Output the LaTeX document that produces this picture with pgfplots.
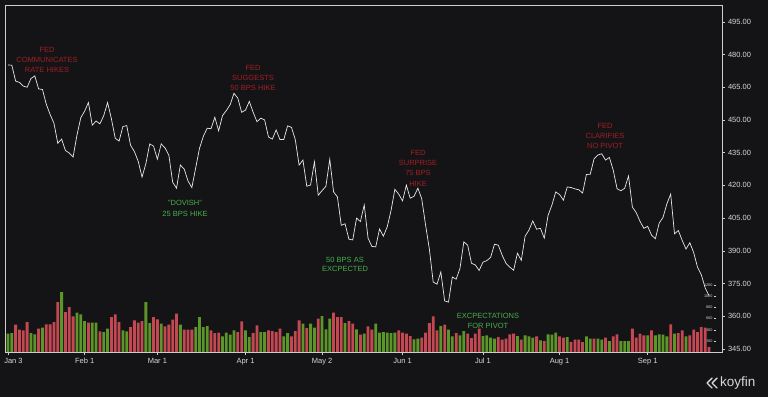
\documentclass[border=0pt]{standalone}
\usepackage{fontspec}
\setmainfont{Liberation Sans}
\usepackage{pgfplots}
\pgfplotsset{compat=1.18}
\definecolor{bg}{RGB}{20,20,23}
\definecolor{frame}{RGB}{205,205,205}
\definecolor{txt}{RGB}{215,215,215}
\definecolor{barred}{RGB}{196,72,82}
\definecolor{bargreen}{RGB}{92,150,40}
\definecolor{annred}{RGB}{160,30,35}
\definecolor{anngreen}{RGB}{70,175,75}
\definecolor{pline}{RGB}{232,232,232}
\begin{document}
\begin{tikzpicture}
\fill[bg] (0pt,0pt) rectangle (768pt,397pt);
% volume axis
\begin{axis}[
  at={(5pt,45pt)}, anchor=south west, scale only axis,
  width=709pt, height=347pt,
  xmin=-0.78, xmax=184.31, ymin=0, ymax=6250,
  axis x line=none, axis y line*=right,
  y axis line style={draw=none},
  ytick={200,400,...,1200},
  /pgf/number format/assume math mode=true,
  /pgf/number format/1000 sep={},
  yticklabel style={anchor=east, xshift=0.5pt, font=\fontsize{3.8}{4}\selectfont, text=txt},
  ytick style={draw=txt, line width=0.4pt},
  tick align=outside, major tick length=1.5pt,
  ybar, bar width=2.8pt, bar shift=0pt,
]
\addplot[draw=none, fill=barred] coordinates {
(2,492)(3,402)(4,390)(5,540)(8,420)(10,498)(11,498)(12,540)(13,900)(15,720)(16,810)(17,642)(21,528)(24,372)(27,630)(28,678)(29,540)(32,450)(33,570)(34,528)(35,558)(38,630)(39,588)(41,462)(42,492)(43,582)(44,690)(46,402)(47,402)(48,402)(53,390)(54,342)(55,348)(60,360)(61,552)(64,342)(65,480)(68,390)(69,378)(70,360)(71,420)(74,282)(75,378)(76,570)(78,432)(81,600)(85,708)(86,630)(87,630)(89,558)(90,510)(92,312)(94,462)(95,402)(102,390)(103,348)(104,330)(105,288)(108,258)(109,348)(110,522)(111,642)(112,390)(114,492)(117,342)(120,330)(121,252)(122,330)(123,420)(128,270)(129,222)(130,240)(131,318)(132,330)(134,222)(138,282)(140,198)(144,282)(145,258)(147,180)(148,222)(149,222)(150,180)(153,240)(156,258)(158,282)(159,318)(163,420)(164,258)(165,330)(166,300)(168,390)(173,498)(175,342)(176,390)(178,300)(179,402)(180,360)(181,450)(182,438)(183,90)
};
\addplot[draw=none, fill=bargreen] coordinates {
(0,330)(1,342)(6,342)(7,318)(9,438)(14,1080)(18,708)(19,678)(20,558)(22,528)(23,528)(25,360)(26,420)(30,390)(31,372)(36,900)(37,522)(40,510)(45,492)(49,450)(50,630)(51,450)(52,468)(56,282)(57,348)(58,312)(59,390)(62,390)(63,270)(66,360)(67,360)(72,282)(73,342)(77,510)(79,510)(80,438)(82,648)(83,408)(84,600)(88,522)(91,408)(93,330)(96,510)(97,348)(98,360)(99,348)(100,342)(101,348)(106,228)(107,240)(113,468)(115,402)(116,282)(118,300)(119,378)(124,288)(125,300)(126,258)(127,240)(133,288)(135,300)(136,282)(137,258)(139,210)(141,318)(142,312)(143,348)(146,270)(151,282)(152,240)(154,240)(155,222)(157,198)(160,198)(161,198)(162,198)(167,300)(169,300)(170,318)(171,312)(172,282)(174,330)(177,282)
};
\end{axis}
% price axis
\begin{axis}[
  at={(5pt,45pt)}, anchor=south west, scale only axis,
  width=717pt, height=347pt,
  xmin=-0.78, xmax=186.4, ymin=343.6, ymax=502.7,
  axis line style={draw=frame, line width=0.6pt},
  xtick pos=bottom, ytick pos=right, yticklabel pos=right,
  tick align=outside, major tick length=2.5pt,
  tick style={draw=frame, line width=0.5pt},
  xtick={0,20,39,62,82,103,124,144,167},
  xticklabels={\hspace*{11pt}Jan 3,Feb 1,Mar 1,Apr 1,May 2,Jun 1,Jul 1,Aug 1,Sep 1},
  ytick={345,360,...,495},
  /pgf/number format/assume math mode=true,
  yticklabel style={/pgf/number format/.cd, fixed, fixed zerofill, precision=2, /tikz/.cd,
    font=\fontsize{7.5}{9}\selectfont, text=txt},
  xticklabel style={font=\fontsize{7.5}{9}\selectfont, text=txt},
]
\addplot[pline, line width=0.7pt, mark=none] coordinates {
(0,475.2)(1,475.1)(2,467.8)(3,467.2)(4,465.5)(5,465.0)(6,469.0)(7,470.2)(8,464.2)(9,464.0)
(10,457.2)(11,452.5)(12,448.5)(13,439.3)(14,441.2)(15,436.0)(16,434.8)(17,433.0)(18,443.0)(19,451.0)
(20,454.0)(21,458.0)(22,447.6)(23,449.5)(24,448.2)(25,452.0)(26,458.0)(27,450.5)(28,441.6)(29,440.3)
(30,447.0)(31,447.4)(32,438.4)(33,435.5)(34,431.0)(35,423.8)(36,430.0)(37,439.0)(38,438.0)(39,432.0)
(40,439.0)(41,437.2)(42,433.8)(43,421.4)(44,418.7)(45,429.3)(46,427.5)(47,422.0)(48,419.0)(49,428.0)
(50,437.0)(51,442.5)(52,446.2)(53,446.0)(54,451.2)(55,445.0)(56,452.0)(57,454.3)(58,457.0)(59,462.2)
(60,460.0)(61,453.5)(62,454.5)(63,458.5)(64,453.5)(65,449.2)(66,450.8)(67,450.0)(68,442.2)(69,441.2)
(70,445.4)(71,441.0)(72,441.0)(73,447.3)(74,446.6)(75,441.0)(76,429.3)(77,431.6)(78,419.6)(79,420.2)
(80,430.8)(81,415.5)(82,417.6)(83,419.6)(84,432.0)(85,417.0)(86,414.7)(87,401.7)(88,402.4)(89,395.3)
(90,395.0)(91,405.0)(92,403.4)(93,411.0)(94,395.8)(95,392.0)(96,391.8)(97,400.0)(98,396.7)(99,401.0)
(100,408.5)(101,418.2)(102,416.0)(103,412.9)(104,420.1)(105,414.1)(106,415.0)(107,418.7)(108,414.0)(109,402.0)
(110,390.8)(111,375.7)(112,374.7)(113,380.3)(114,367.0)(115,366.5)(116,378.0)(117,377.0)(118,382.0)(119,394.1)
(120,392.6)(121,384.3)(122,383.5)(123,381.0)(124,384.8)(125,385.5)(126,387.0)(127,393.0)(128,392.6)(129,388.0)
(130,384.3)(131,382.5)(132,381.1)(133,388.9)(134,385.6)(135,396.7)(136,399.5)(137,403.7)(138,399.9)(139,400.3)
(140,395.8)(141,406.3)(142,411.0)(143,417.0)(144,415.8)(145,413.2)(146,419.3)(147,419.0)(148,418.4)(149,418.0)
(150,416.5)(151,425.0)(152,425.1)(153,432.2)(154,433.9)(155,434.5)(156,431.6)(157,432.8)(158,427.0)(159,418.5)
(160,417.5)(161,418.7)(162,424.3)(163,410.1)(164,407.5)(165,403.5)(166,400.3)(167,401.2)(168,397.2)(169,395.5)
(170,402.7)(171,405.3)(172,411.5)(173,416.0)(174,397.8)(175,399.3)(176,394.8)(177,390.8)(178,393.7)(179,389.2)
(180,382.5)(181,379.0)(182,373.0)(183,369.5)
};
\end{axis}
% annotations
\begin{scope}[every node/.style={align=center, font=\fontsize{7.5}{10.3}\selectfont, inner sep=0pt}]
\node[text=annred] at (47pt,337pt) {FED\\COMMUNICATES\\RATE HIKES};
\node[text=annred] at (253pt,319pt) {FED\\SUGGESTS\\50 BPS HIKE};
\node[text=annred] at (418pt,229pt) {FED\\SURPRISE\\75 BPS\\HIKE};
\node[text=annred] at (605pt,261pt) {FED\\CLARIFIES\\NO PIVOT};
\node[text=anngreen] at (185pt,188.5pt) {"DOVISH"\\25 BPS HIKE};
\node[text=anngreen, font=\fontsize{7.5}{9.5}\selectfont] at (345pt,132.5pt) {50 BPS AS\\EXCPECTED};
\node[text=anngreen] at (488pt,76pt) {EXCPECTATIONS\\FOR PIVOT};
\end{scope}
% logo
\draw[txt, line width=1.4pt, line cap=round, line join=round] (712pt,19pt)--(707pt,14pt)--(712pt,9pt);
\draw[txt, line width=1.4pt, line cap=round, line join=round] (717pt,19pt)--(712pt,14pt)--(717pt,9pt);
\node[anchor=west, inner sep=0pt, text=txt, font=\fontsize{13.5}{14}\selectfont] at (720pt,14pt) {koyfin};
\pgfresetboundingbox
\path[use as bounding box] (0pt,0pt) rectangle (768pt,397pt);
\end{tikzpicture}
\end{document}
